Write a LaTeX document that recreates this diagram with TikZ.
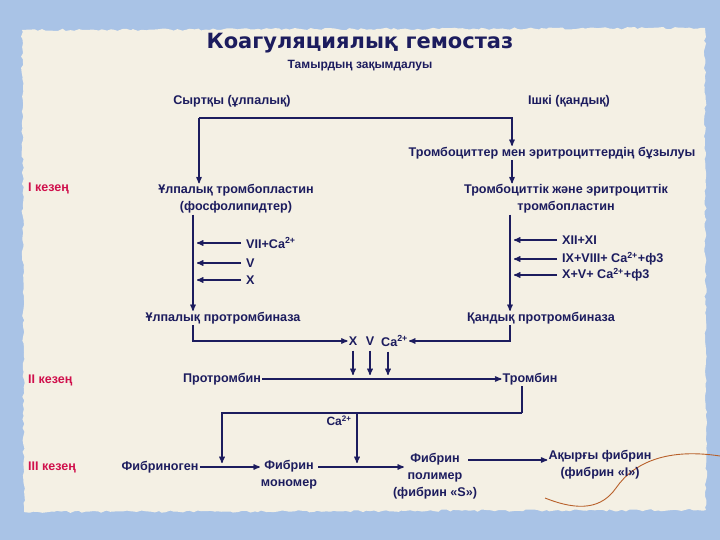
\documentclass[tikz,border=0pt]{standalone}
\usepackage{fontspec}
\setmainfont{Liberation Sans}
\newfontfamily\titlefont{DejaVu Sans}
\usetikzlibrary{arrows,positioning,calc,decorations.pathmorphing}
\definecolor{ink}{HTML}{1C1C5E}
\definecolor{stage}{HTML}{D0104C}
\definecolor{sky}{HTML}{A9C3E6}
\definecolor{paper}{HTML}{F4F0E4}
\definecolor{thread}{HTML}{B8602A}
\tikzset{
  lbl/.style={font=\bfseries\fontsize{12.6}{17}\selectfont, text=ink, align=center, inner sep=1pt},
  small/.style={font=\bfseries\fontsize{12}{13}\selectfont, text=ink, inner sep=1pt},
  stagelbl/.style={font=\bfseries\fontsize{12.5}{13}\selectfont, text=stage, anchor=west, inner sep=0pt},
  flow/.style={->, ink, line width=1.3pt},
  feed/.style={->, ink, line width=1.3pt, shorten >=4pt, shorten <=4pt},
}
\begin{document}
\begin{tikzpicture}[x=1pt,y=-1pt,>=stealth']
\useasboundingbox (0,0) rectangle (720,540);
\fill[sky] (0,0) rectangle (720,540);
\fill[paper, decorate, decoration={random steps,segment length=4pt,amplitude=1.2pt}]
  (22,30) -- (705,28) -- (706,510) -- (24,512) -- cycle;
\draw[thread, line width=0.9pt] (545,498) .. controls (580,512) and (602,508) .. (616,488)
  .. controls (634,462) and (668,448) .. (720,456);

% titles
\node (title) at (360,43) {\titlefont\bfseries\color{ink}\fontsize{21}{24}\selectfont Коагуляциялық гемостаз};
\node[small] (damage) at (360,66) {Тамырдың зақымдалуы};
\node[lbl] (outer) at (232,101) {Сыртқы (ұлпалық)};
\node[lbl] (inner) at (569,101) {Ішкі (қандық)};

% stage I
\node[stagelbl] (stI) at (28,188) {І кезең};
\node[lbl] (breakdown) at (552,153) {Тромбоциттер мен эритроциттердің бұзылуы};
\node[lbl] (tissue) at (236,199) {Ұлпалық тромбопластин\\(фосфолипидтер)};
\node[lbl] (plate) at (566,199) {Тромбоциттік және эритроциттік\\тромбопластин};
\node[lbl, anchor=west] (l1) at (245,243) {VII+Ca\textsuperscript{2+}};
\node[lbl, anchor=west] (l2) at (245,263) {V};
\node[lbl, anchor=west] (l3) at (245,280) {X};
\node[lbl, anchor=west] (r1) at (561,240) {XII+XI};
\node[lbl, anchor=west] (r2) at (561,259) {IX+VIII+ Ca\textsuperscript{2+}+ф3};
\node[lbl, anchor=west] (r3) at (561,275) {X+V+ Ca\textsuperscript{2+}+ф3};
\node[lbl] (tprase) at (223,318) {Ұлпалық протромбиназа};
\node[lbl] (bprase) at (541,318) {Қандық протромбиназа};

\coordinate (forkL) at (199,118);
\coordinate (forkR) at (512,118);
\coordinate (lcol) at (193,0);
\coordinate (rcol) at (510,0);
\draw[flow] (forkL) -- (forkL |- tissue.north);
\draw[flow] (forkL) -- (forkR) -- (forkR |- breakdown.north);
\draw[flow] (breakdown.south -| forkR) -- (forkR |- plate.north);
\draw[flow] (tissue.south -| lcol) -- (lcol |- tprase.north);
\draw[flow] (plate.south -| rcol) -- (rcol |- bprase.north);
\foreach \f in {l1,l2,l3} \draw[feed] (\f.west) -- (\f.west -| lcol);
\foreach \f in {r1,r2,r3} \draw[feed] (\f.west) -- (\f.west -| rcol);

% stage II
\node[lbl] (fx) at (353,341) {X};
\node[lbl] (fv) at (370,341) {V};
\node[lbl, anchor=west] (fca) at (380,341) {Ca\textsuperscript{2+}};
\draw[flow] (tprase.south -| lcol) |- (fx.west);
\draw[flow] (bprase.south -| rcol) |- (fca.east);
\node[stagelbl] (stII) at (28,380) {ІІ кезең};
\node[lbl] (prothr) at (222,379) {Протромбин};
\node[lbl] (thr) at (530,379) {Тромбин};
\draw[flow] (prothr.east) -- (thr.west);
\draw[feed] (fx.south) -- (fx.south |- prothr);
\draw[feed] (fv.south) -- (fv.south |- prothr);
\draw[feed] ([xshift=8pt]fca.south west) -- ([xshift=8pt]fca.south west |- prothr);

% stage III
\node[stagelbl] (stIII) at (28,467) {ІІІ кезең};
\node[lbl] (fibrinogen) at (160,467) {Фибриноген};
\node[lbl] (monomer) at (289,475) {Фибрин\\мономер};
\node[lbl] (polymer) at (435,476) {Фибрин\\полимер\\(фибрин «S»)};
\node[lbl] (final) at (600,465) {Ақырғы фибрин\\(фибрин «І»)};
\node[small] (ca) at (339,421) {Ca\textsuperscript{2+}};
\draw[flow] (fibrinogen.east) -- (fibrinogen -| monomer.west);
\draw[flow] (monomer.east |- fibrinogen) -- ([xshift=12pt]polymer.west |- fibrinogen);
\draw[flow] ([xshift=-10pt,yshift=5pt]polymer.east |- final) -- ([yshift=5pt]final.west);

\coordinate (split) at (522,413);
\coordinate (j1) at (222,467);
\coordinate (j2) at (357,467);
\draw[ink, line width=1.3pt] (split |- thr.south) -- (split);
\draw[flow] (split) -| ([yshift=4pt]j1);
\draw[flow] (split -| j2) -- ([yshift=4pt]j2);
\end{tikzpicture}
\end{document}
